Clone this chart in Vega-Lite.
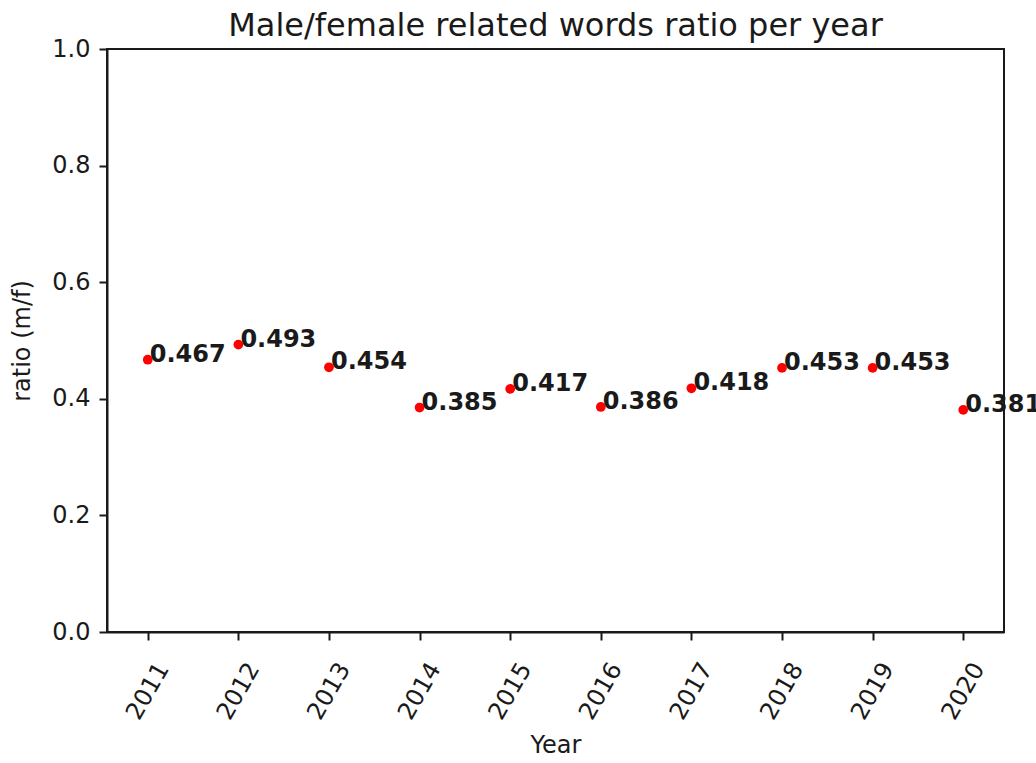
{
  "$schema": "https://vega.github.io/schema/vega-lite/v6.json",
  "width": 897,
  "height": 583,
  "autosize": {"type": "none"},
  "padding": {"left": 107, "top": 49, "right": 32, "bottom": 131},
  "background": "white",
  "title": {"text": "Male/female related words ratio per year", "font": "DejaVu Sans", "fontSize": 32, "fontWeight": "normal", "color": "#1a1a1a", "baseline": "bottom", "offset": -2, "dy": 36},
  "config": {
    "view": {"stroke": "#1a1a1a", "strokeWidth": 2},
    "axis": {
      "labelFont": "DejaVu Sans", "titleFont": "DejaVu Sans",
      "labelFontSize": 24, "titleFontSize": 24, "titleFontWeight": "normal",
      "labelColor": "#1a1a1a", "titleColor": "#1a1a1a",
      "domainColor": "#1a1a1a", "tickColor": "#1a1a1a", "tickSize": 8, "tickWidth": 2, "domainWidth": 2,
      "grid": false
    }
  },
  "data": {"values": [
    {"year": 2011, "ratio": 0.467},
    {"year": 2012, "ratio": 0.493},
    {"year": 2013, "ratio": 0.454},
    {"year": 2014, "ratio": 0.385},
    {"year": 2015, "ratio": 0.417},
    {"year": 2016, "ratio": 0.386},
    {"year": 2017, "ratio": 0.418},
    {"year": 2018, "ratio": 0.453},
    {"year": 2019, "ratio": 0.453},
    {"year": 2020, "ratio": 0.381}
  ]},
  "encoding": {
    "x": {"field": "year", "type": "quantitative",
      "scale": {"domain": [2010.55, 2020.45], "nice": false, "zero": false},
      "axis": {"title": "Year", "values": [2011,2012,2013,2014,2015,2016,2017,2018,2019,2020], "format": "d",
        "labelAngle": -60, "labelAlign": "center", "labelBaseline": "middle", "labelPadding": 51, "titlePadding": 10}},
    "y": {"field": "ratio", "type": "quantitative",
      "scale": {"domain": [0, 1], "nice": false},
      "axis": {"title": "ratio (m/f)", "values": [0, 0.2, 0.4, 0.6, 0.8, 1.0], "format": ".1f", "labelPadding": 9, "titlePadding": 17}}
  },
  "layer": [
    {"mark": {"type": "point", "filled": true, "color": "#ff0000", "size": 95, "opacity": 1, "shape": "circle"}},
    {"mark": {"type": "text", "align": "left", "baseline": "alphabetic", "dx": 2, "dy": 2, "font": "DejaVu Sans", "fontSize": 24, "fontWeight": "bold", "color": "#1a1a1a", "clip": false},
      "encoding": {"text": {"field": "ratio", "type": "quantitative", "format": ".3f"}}}
  ]
}
